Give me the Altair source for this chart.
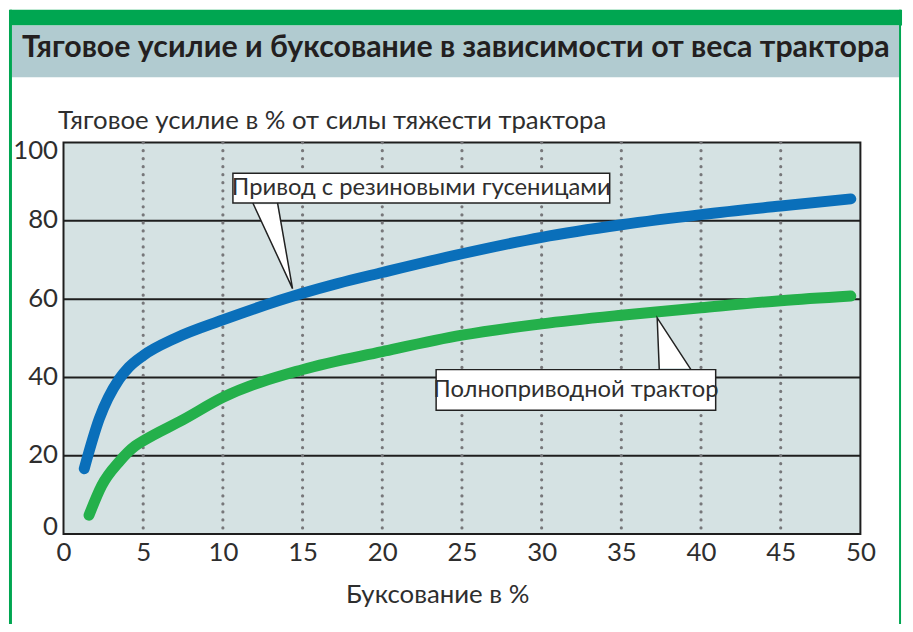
import altair as alt
import pandas as pd

# ---- data ----
slip_rubber = [1.3, 2.24, 3.48, 4.1, 5, 7, 10, 15, 17.2, 20, 25, 30, 35, 40, 45, 49.4]
pull_rubber = [16.7, 29.4, 39.5, 42.6, 45.6, 50.0, 54.7, 61.5, 64.0, 66.8, 71.6, 75.8, 79.0, 81.6, 83.8, 85.6]

slip_4wd = [1.6, 2.4, 3.5, 4.5, 5, 7.5, 10, 15, 20, 25, 30, 35, 40, 45, 49.4]
pull_4wd = [4.8, 12.4, 18.5, 22.5, 23.8, 29.2, 34.9, 42.0, 46.6, 50.8, 53.7, 55.9, 57.8, 59.6, 60.8]

series_names = ["Привод с резиновыми гусеницами", "Полноприводной трактор"]
series_colors = ["#0a6fba", "#24b04b"]

x_ticks = [0, 5, 10, 15, 20, 25, 30, 35, 40, 45, 50]
y_ticks = [0, 20, 40, 60, 80, 100]
h_grid = [20, 40, 60, 80]
v_grid = [5, 10, 15, 20, 25, 30, 35, 40, 45]

# callout boxes (data units): x1, x2, y1, y2
box_x1 = [10.63, 23.38]
box_x2 = [34.27, 40.92]
box_y1 = [84.56, 31.6]
box_y2 = [92.15, 42.0]
# pointer triangles: base left x, base right x, base y, tip x, tip y
ptr_bl = [11.88, 37.38]
ptr_br = [13.43, 39.37]
ptr_by = [84.56, 42.0]
ptr_tx = [14.37, 37.25]
ptr_ty = [62.7, 55.2]

title_text = "Тяговое усилие и буксование в зависимости от веса трактора"
y_title = "Тяговое усилие в % от силы тяжести трактора"
x_title = "Буксование в %"

FONT = "Lato"
TXT = "#2e2e2e"

# ---- tables ----
curves = pd.DataFrame(
    [{"slip": s, "pull": p, "series": series_names[0]} for s, p in zip(slip_rubber, pull_rubber)]
    + [{"slip": s, "pull": p, "series": series_names[1]} for s, p in zip(slip_4wd, pull_4wd)]
)
boxes = pd.DataFrame({
    "name": series_names, "x1": box_x1, "x2": box_x2, "y1": box_y1, "y2": box_y2,
    "cx": [(a + b) / 2 for a, b in zip(box_x1, box_x2)],
    "cy": [(a + b) / 2 for a, b in zip(box_y1, box_y2)],
})
inset = [-0.4, 0.4]
tri_fill = pd.DataFrame(
    [{"name": n, "ty": ty, "tx1": tx, "tx2": tx} for n, tx, ty in zip(series_names, ptr_tx, ptr_ty)]
    + [{"name": n, "ty": by + d, "tx1": bl + 0.05, "tx2": br - 0.05}
       for n, bl, br, by, d in zip(series_names, ptr_bl, ptr_br, ptr_by, inset)]
)
tri_edges = pd.DataFrame(
    [{"name": n, "k": 0, "ex": bl, "ey": by} for n, bl, by in zip(series_names, ptr_bl, ptr_by)]
    + [{"name": n, "k": 1, "ex": tx, "ey": ty} for n, tx, ty in zip(series_names, ptr_tx, ptr_ty)]
    + [{"name": n, "k": 2, "ex": br, "ey": by} for n, br, by in zip(series_names, ptr_br, ptr_by)]
)

xs = alt.Scale(domain=[0, 50], nice=False)
ys = alt.Scale(domain=[0, 100], nice=False)
one = pd.DataFrame({"a": [0]})

x_axis = alt.Axis(values=x_ticks, grid=False, ticks=False, domain=False, labelFlush=False,
                  labelFont=FONT, labelFontSize=26, labelColor=TXT, labelPadding=6,
                  title=x_title, titleFont=FONT, titleFontSize=26, titleFontWeight="normal",
                  titleColor=TXT, titleX=377, titleY=69, titleAlign="center",
                  titleBaseline="alphabetic")
y_axis = alt.Axis(values=y_ticks, grid=False, ticks=False, domain=False, labelFlush=False,
                  labelBaseline="middle",
                  labelOffset={"condition": [{"test": "datum.value == 100", "value": 8},
                                             {"test": "datum.value == 0", "value": -8}],
                               "value": -1},
                  labelFont=FONT, labelFontSize=26, labelColor=TXT, labelPadding=6,
                  title=y_title, titleFont=FONT, titleFontSize=26, titleFontWeight="normal",
                  titleColor=TXT, titleAngle=0, titleX=-6, titleY=-14, titleAlign="left",
                  titleBaseline="alphabetic")

hgrid = alt.Chart(pd.DataFrame({"v": h_grid})).mark_rule(color="#1e1e1e", strokeWidth=2).encode(
    y=alt.Y("v:Q", scale=ys, axis=y_axis))
vgrid = alt.Chart(pd.DataFrame({"v": v_grid})).mark_rule(
    color="#77777a", strokeWidth=3.2, strokeDash=[0.1, 8], strokeCap="round").encode(
    x=alt.X("v:Q", scale=xs, axis=x_axis))

lines = alt.Chart(curves).mark_line(strokeWidth=11, strokeCap="round", strokeJoin="round",
                                    interpolate="monotone").encode(
    x=alt.X("slip:Q", scale=xs),
    y=alt.Y("pull:Q", scale=ys),
    color=alt.Color("series:N", scale=alt.Scale(domain=series_names, range=series_colors), legend=None),
    detail="series:N",
)

box_rect = alt.Chart(boxes).mark_rect(fill="white", stroke="#222", strokeWidth=1.5).encode(
    x=alt.X("x1:Q", scale=xs), x2="x2:Q", y=alt.Y("y1:Q", scale=ys), y2="y2:Q")
tri_area = alt.Chart(tri_fill).mark_area(orient="horizontal", fill="white", opacity=1).encode(
    y=alt.Y("ty:Q", scale=ys), x=alt.X("tx1:Q", scale=xs), x2="tx2:Q", detail="name:N")
tri_line = alt.Chart(tri_edges).mark_line(color="#222", strokeWidth=1.5, strokeJoin="miter").encode(
    x=alt.X("ex:Q", scale=xs), y=alt.Y("ey:Q", scale=ys), order="k:Q", detail="name:N")
box_text = alt.Chart(boxes).mark_text(font=FONT, fontSize=24, color=TXT, align="center",
                                      baseline="middle").encode(
    x=alt.X("cx:Q", scale=xs), y=alt.Y("cy:Q", scale=ys), text="name:N")

# ---- decorative frame and title band (pixel positions relative to plot origin) ----
green = "#00a651"
top_bar = alt.Chart(one).mark_rect(color=green).encode(
    x=alt.value(-54), x2=alt.value(846), y=alt.value(-134), y2=alt.value(-118))
band = alt.Chart(one).mark_rect(color="#b1cbd0").encode(
    x=alt.value(-52), x2=alt.value(844), y=alt.value(-118), y2=alt.value(-66))
left_border = alt.Chart(one).mark_rect(color=green).encode(
    x=alt.value(-55), x2=alt.value(-52), y=alt.value(-134), y2=alt.value(500))
right_border = alt.Chart(one).mark_rect(color=green).encode(
    x=alt.value(843), x2=alt.value(845), y=alt.value(-134), y2=alt.value(500))
title = alt.Chart(one).mark_text(text=title_text, font="Lato", fontWeight="bold", fontSize=30.6,
                                 color="#231f20", align="left", baseline="alphabetic").encode(
    x=alt.value(-42), y=alt.value(-86))

chart = alt.layer(
    top_bar, band, left_border, right_border, title,
    hgrid, vgrid, lines, tri_area, box_rect, tri_area, tri_line, box_text,
).properties(
    width=804, height=395,
    padding={"left": 56, "top": 133, "right": 45, "bottom": 88},
    autosize=alt.AutoSizeParams(type="none"),
    background="white",
).configure_view(fill="#d5e2e3", stroke="#1e1e1e", strokeWidth=2)

chart.save("out.html", embed_options={"renderer": "svg", "actions": False})
